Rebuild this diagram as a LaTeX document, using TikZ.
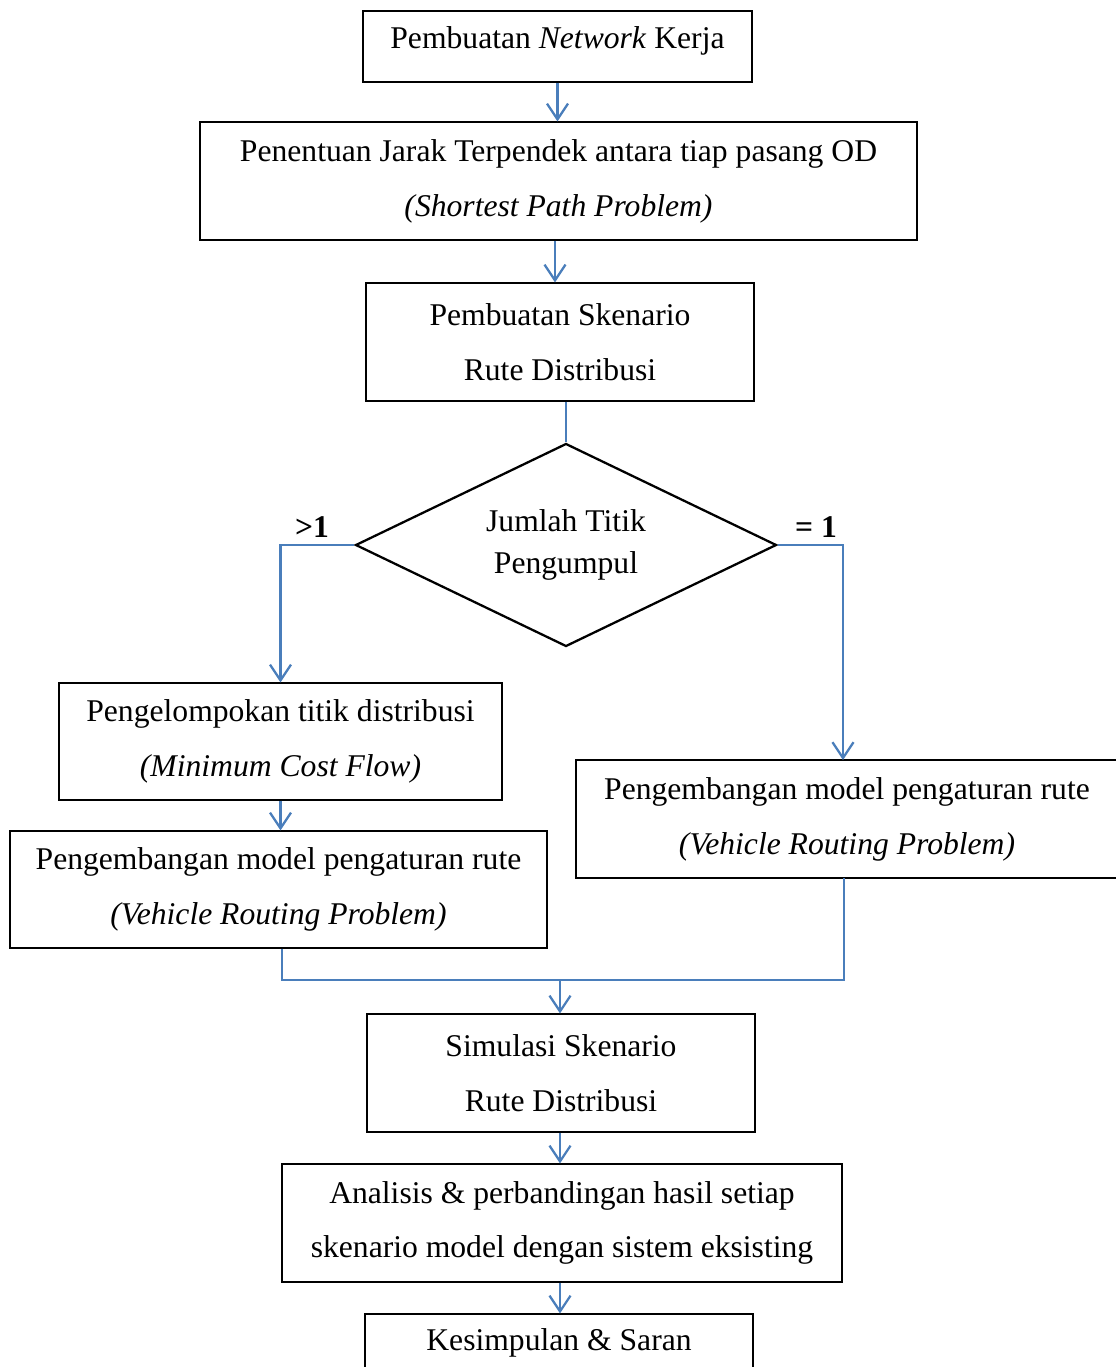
\documentclass[tikz,border=0pt]{standalone}
\usepackage{fontspec}
\setmainfont{Liberation Serif}
\usetikzlibrary{arrows.meta,shapes.geometric,calc}
\definecolor{flowblue}{HTML}{4A7EBB}
\newcommand{\pu}{0.02cm}
\begin{document}
\begin{tikzpicture}[x=0.02cm,y=-0.02cm,
  font=\fontsize{18}{31.2}\selectfont,
  box/.style={draw=black,line width=0.6pt,fill=white,rectangle,inner sep=0pt,align=center},
  conn/.style={draw=flowblue,line width=1.3pt},
  arr/.style={conn,-{Straight Barb[length=9pt,width=12pt,line width=1.3pt]}},
  lbl/.style={font=\fontsize{18}{20}\selectfont\bfseries,inner sep=0pt}]
\useasboundingbox (0,0) rectangle (1116,1367);

% process boxes
\node[box,minimum width=389*\pu,minimum height=71*\pu] (b1) at (557.5,46.5) {};
\node[inner sep=0pt] (t1) at (557.5,41) {Pembuatan \textit{Network} Kerja};
\node[box,minimum width=717*\pu,minimum height=118*\pu] (b2) at (558.5,181)
  {Penentuan Jarak Terpendek antara tiap pasang OD\\\textit{(Shortest Path Problem)}};
\node[box,minimum width=388*\pu,minimum height=118*\pu] (b3) at (560,342)
  {Pembuatan Skenario\\Rute Distribusi};
\node[draw=black,line width=1.3pt,shape=diamond,aspect=2.07,inner sep=0pt,
  minimum width=421*\pu,minimum height=203*\pu,align=center] (d) at (566,545)
  {Jumlah Titik\\[-7pt]Pengumpul};
\node[box,minimum width=443*\pu,minimum height=117*\pu] (b4) at (280.5,741.5)
  {Pengelompokan titik distribusi\\\textit{(Minimum Cost Flow)}};
\node[box,minimum width=537*\pu,minimum height=117*\pu] (b5) at (278.5,889.5)
  {Pengembangan model pengaturan rute\\\textit{(Vehicle Routing Problem)}};
\node[box,minimum width=542*\pu,minimum height=118*\pu] (b6) at (847,819)
  {Pengembangan model pengaturan rute\\\textit{(Vehicle Routing Problem)}};
\node[box,minimum width=388*\pu,minimum height=118*\pu] (b7) at (561,1073)
  {Simulasi Skenario\\Rute Distribusi};
\node[box,minimum width=560*\pu,minimum height=118*\pu] (b8) at (562,1223)
  {Analisis \& perbandingan hasil setiap\\skenario model dengan sistem eksisting};
\node[box,minimum width=388*\pu,minimum height=118*\pu] (b9) at (559,1373) {};
\node[inner sep=0pt] (t9) at (559,1343) {Kesimpulan \& Saran};

% branch labels
\node[lbl] (gt) at (312,527) {>1};
\node[lbl] (eq) at (816,527) {= 1};

% connectors
\draw[arr] (b1.south) -- (b2.north -| b1.south);
\draw[arr] (b2.south -| 555,0) -- (b3.north -| 555,0);
\draw[conn] (b3.south -| d.north) -- (d.north);
\draw[arr] (d.west) -| (b4.north);
\draw[arr] (d.east) -| (843,760);
\draw[arr] (b4.south) -- (b5.north -| b4.south);
\coordinate (m) at (560,980);
\draw[conn] (b5.south -| 282,0) |- (m) -| (844,878);
\draw[arr] (m) -- (b7.north -| m);
\draw[arr] (b7.south -| m) -- (b8.north -| m);
\draw[arr] (b8.south -| m) -- (b9.north -| m);
\end{tikzpicture}
\end{document}
